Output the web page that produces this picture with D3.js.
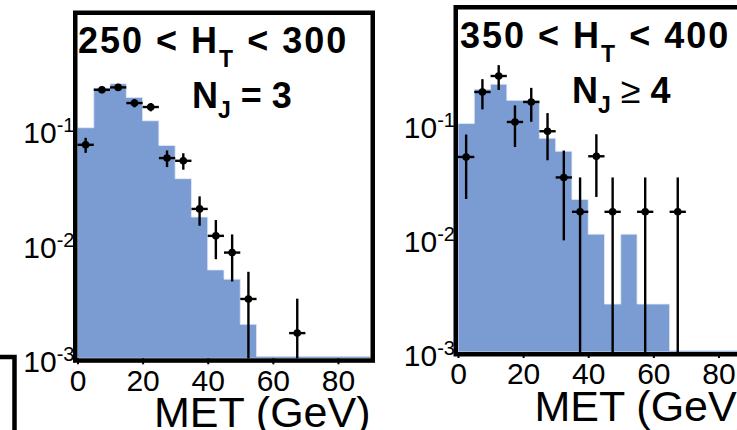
<!DOCTYPE html>
<html>
<head>
<meta charset="utf-8">
<script src="https://cdn.jsdelivr.net/npm/d3@7"></script>
<style>
  body { margin: 0; background: #fff; }
  svg { display: block; }
</style>
</head>
<body>
<svg id="met-svg"></svg>
<script>
// MET bins (GeV), 5 GeV wide
const binLow = [0, 5, 10, 15, 20, 25, 30, 35, 40, 45, 50, 55, 60, 65, 70, 75, 80, 85];
const binWidth = 5;

// panel 1: 250 < HT < 300, NJ = 3
const histA = [0.1035, 0.230, 0.251, 0.1905, 0.119, 0.0724, 0.0371, 0.01715, 0.00592, 0.00491, 0.00198,
  0.00104, 0.00104, 0.00104, 0.00104, 0.00104, 0.00104, 0.00104];
const dataXA = [2.5, 7.5, 12.5, 17.5, 22.5, 27.5, 32.5, 37.5, 42.5, 47.5, 52.5, 67.5];
const dataYA = [0.0734, 0.222, 0.233, 0.170, 0.157, 0.0562, 0.0532, 0.0202, 0.01175, 0.00839, 0.0033, 0.00166];
const dataErrA = [0.011, 0.015, 0.015, 0.014, 0.013, 0.0093, 0.0087, 0.0058, 0.0044, 0.0037, 0.0024, 0.00166];

// panel 2: 350 < HT < 400, NJ >= 4
const histB = [0.1002, 0.200, 0.2215, 0.160, 0.160, 0.0745, 0.0573, 0.02168, 0.01077, 0.00263, 0.01077,
  0.00263, 0.00263, 0.00103, 0.00103, 0.00103, 0.00103, 0.00103];
const dataXB = [2.5, 7.5, 12.5, 17.5, 22.5, 27.5, 32.5, 37.5, 42.5, 47.5, 57.5, 67.5];
const dataYB = [0.0511, 0.1894, 0.2615, 0.1035, 0.1549, 0.0858, 0.0338, 0.0169, 0.0518, 0.0169, 0.0169, 0.0169];
const dataErrB = [0.0292, 0.056, 0.064, 0.041, 0.051, 0.038, 0.0243, 0.0169, 0.029, 0.0169, 0.0169, 0.0169];

// axes
const xTicks = [0, 20, 40, 60, 80];
const yTickExp = [-3, -2, -1];
const xLabel = "MET (GeV)";

const width = 737, height = 430;
const font = "'Liberation Sans', Arial, Helvetica, sans-serif";
const fillColor = "#7b9bd3";

const svg = d3.select('#met-svg')
    .attr("width", width)
    .attr("height", height);

// little bracket left over from a neighbouring panel
svg.append("path")
    .attr("d", "M0,357 H14.5 V432")
    .attr("fill", "none")
    .attr("stroke", "black")
    .attr("stroke-width", 4.5);

const drawPanel = (p) => {
    const x = d3.scaleLinear().domain([0, 90]).range([p.x0, p.x1]);
    const y = d3.scaleLog().domain([1e-3, 1]).range([p.bottom, p.top]).clamp(true);

    const g = svg.append("g");

    // histogram as a step area
    const steps = [];
    binLow.forEach((lo, i) => {
        steps.push([lo, p.hist[i]]);
        steps.push([lo + binWidth, p.hist[i]]);
    });
    const area = d3.area()
        .x(d => x(d[0]))
        .y0(y(1e-3))
        .y1(d => y(d[1]));
    g.append("path")
        .datum(steps)
        .attr("d", area)
        .attr("fill", fillColor)
        .attr("stroke", "#e3eaf7")
        .attr("stroke-width", 0.8);

    // data points with error bars
    const pts = p.dataX.map((d, i) => ({ x: d, y: p.dataY[i], e: p.dataErr[i] }));
    const pg = g.append("g");
    pg.selectAll(".vbar")
        .data(pts)
        .join("line")
        .attr("x1", d => x(d.x)).attr("x2", d => x(d.x))
        .attr("y1", d => y(d.y + d.e))
        .attr("y2", d => y(Math.max(d.y - d.e, 1e-5)))
        .attr("stroke", "black")
        .attr("stroke-width", 2.4);
    pg.selectAll(".hbar")
        .data(pts)
        .join("line")
        .attr("x1", d => x(d.x - binWidth / 2)).attr("x2", d => x(d.x + binWidth / 2))
        .attr("y1", d => y(d.y)).attr("y2", d => y(d.y))
        .attr("stroke", "black")
        .attr("stroke-width", 2.4);
    pg.selectAll("circle")
        .data(pts)
        .join("circle")
        .attr("cx", d => x(d.x))
        .attr("cy", d => y(d.y))
        .attr("r", 3.8)
        .attr("fill", "black");

    // x axis ticks + labels
    const xAxis = g.append("g")
        .attr("transform", `translate(0, ${p.bottom})`)
        .call(d3.axisBottom(x).tickValues(xTicks).tickSize(6).tickPadding(5).tickFormat(d3.format("d")));
    xAxis.select(".domain").remove();
    xAxis.selectAll("line").attr("stroke-width", 2);
    xAxis.selectAll("text")
        .attr("font-family", font)
        .attr("font-size", 30)
        .attr("fill", "black");

    // y labels 10^n
    const yl = g.append("g");
    yTickExp.forEach(e => {
        const t = yl.append("text")
            .attr("x", p.x0 - 3)
            .attr("y", y(Math.pow(10, e)) + 14)
            .attr("text-anchor", "end")
            .attr("font-family", font)
            .attr("font-size", 30);
        t.append("tspan").text("10");
        t.append("tspan").attr("dy", -11).attr("font-size", 20).text(e);
    });

    // frame
    g.append("rect")
        .attr("x", p.x0 - 2.25)
        .attr("y", p.top - 2.25)
        .attr("width", p.x1 - p.x0 + 4.5)
        .attr("height", p.bottom - p.top + 4.5)
        .attr("fill", "none")
        .attr("stroke", "black")
        .attr("stroke-width", 4.5);

    // x title
    g.append("text")
        .attr("x", p.x1)
        .attr("y", p.bottom + 69)
        .attr("text-anchor", "end")
        .attr("font-family", font)
        .attr("font-size", 43)
        .text(xLabel);

    // HT range label
    const t1 = g.append("text")
        .attr("x", p.tx)
        .attr("y", p.top + 38)
        .attr("font-family", font)
        .attr("font-weight", "bold")
        .attr("font-size", 36)
        .attr("letter-spacing", 2);
    t1.append("tspan").text(`${p.ht[0]} < H`);
    t1.append("tspan").attr("dy", 14).attr("font-size", 23).text("T");
    t1.append("tspan").attr("dy", -14).text(` < ${p.ht[1]}`);

    // jet multiplicity label
    const t2 = g.append("text")
        .attr("x", p.nx)
        .attr("y", p.top + 93)
        .attr("font-family", font)
        .attr("font-weight", "bold")
        .attr("font-size", 36);
    t2.append("tspan").text("N");
    t2.append("tspan").attr("dy", 10).attr("font-size", 23).text("J");
    t2.append("tspan").attr("dy", -10).attr("font-weight", p.nj[0] === "=" ? "bold" : "normal").text(` ${p.nj[0]} `);
    t2.append("tspan").text(p.nj[1]);
};

drawPanel({ x0: 77.5, x1: 370.5, top: 15, bottom: 358.3, tx: 78, nx: 192,
    hist: histA, dataX: dataXA, dataY: dataYA, dataErr: dataErrA, ht: [250, 300], nj: ["=", "3"] });
drawPanel({ x0: 458, x1: 751, top: 9.5, bottom: 352, tx: 460, nx: 572,
    hist: histB, dataX: dataXB, dataY: dataYB, dataErr: dataErrB, ht: [350, 400], nj: ["\u2265", "4"] });
</script>
</body>
</html>
